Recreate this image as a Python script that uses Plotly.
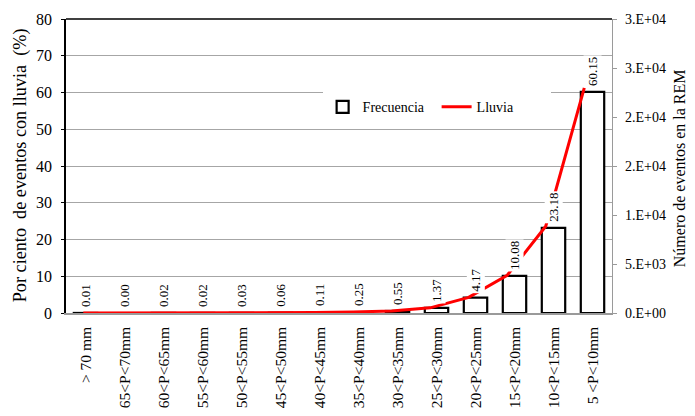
import plotly.graph_objects as go

categories = ["> 70 mm", "65<P<70mm", "60<P<65mm", "55<P<60mm", "50<P<55mm",
              "45<P<50mm", "40<P<45mm", "35<P<40mm", "30<P<35mm", "25<P<30mm",
              "20<P<25mm", "15<P<20mm", "10<P<15mm", "5 <P<10mm"]
freq_pct = [0.01, 0.00, 0.02, 0.02, 0.03, 0.06, 0.11, 0.25, 0.55, 1.37,
            4.17, 10.08, 23.18, 60.15]
lluvia_events = [4, 1, 8, 8, 11, 23, 42, 95, 210, 523, 1593, 3851, 8855, 22977]

left_tickvals = [0, 10, 20, 30, 40, 50, 60, 70, 80]
right_tickvals = [0, 5000, 10000, 15000, 20000, 25000, 30000]
right_ticktext = ["0.E+00", "5.E+03", "1.E+04", "2.E+04", "2.E+04", "3.E+04", "3.E+04"]

left_title = "Por ciento\u00a0 de eventos con lluvia\u00a0 (%)"
right_title = "Número de eventos en la REM"

FONT = "Liberation Serif"

fig = go.Figure()
fig.add_trace(go.Bar(
    x=categories, y=freq_pct, name="Frecuencia",
    marker=dict(color="white", line=dict(color="black", width=2.2)),
    width=0.6, xaxis="x", yaxis="y",
))
fig.add_trace(go.Scatter(
    x=categories, y=lluvia_events, name="Lluvia", mode="lines",
    line=dict(color="#ff0000", width=3),
    xaxis="x2", yaxis="y2",
))

for c, v in zip(categories, freq_pct):
    fig.add_annotation(
        x=c, y=v, xref="x", yref="y", text=f"{v:.2f}", textangle=-90,
        showarrow=False, yanchor="bottom", yshift=4, bgcolor="white",
        borderpad=1, font=dict(family=FONT, size=13, color="black"),
    )

fig.add_annotation(x=-0.084, y=0.503, xref="paper", yref="paper", text=left_title,
                   textangle=-90, showarrow=False, xanchor="center", yanchor="middle",
                   font=dict(family=FONT, size=18.2, color="black"))
fig.add_annotation(x=1.123, y=0.493, xref="paper", yref="paper", text=right_title,
                   textangle=-90, showarrow=False, xanchor="center", yanchor="middle",
                   font=dict(family=FONT, size=16, color="black"))

fig.update_layout(
    width=695, height=416,
    margin=dict(l=58, r=91, t=11, b=111),
    plot_bgcolor="white", paper_bgcolor="white",
    font=dict(family=FONT, color="black"),
    showlegend=True,
    legend=dict(orientation="h", x=0.47, y=0.70, xanchor="left", yanchor="middle",
                bgcolor="white", font=dict(family=FONT, size=14), itemwidth=30,
                entrywidth=69, tracegroupgap=0),
    bargap=0.4,
    xaxis=dict(
        type="category", categoryorder="array", categoryarray=categories,
        tickangle=-90, tickfont=dict(family=FONT, size=15.5), automargin=False,
        ticklabelstandoff=6,
        showline=True, linecolor="#9a9a9a", linewidth=1.5, ticks="",
        showgrid=False, mirror=False, range=[-0.5, 13.5],
    ),
    xaxis2=dict(
        type="category", categoryorder="array", categoryarray=categories,
        overlaying="x", anchor="y2", visible=False, range=[-0.449, 13.719],
    ),
    yaxis=dict(
        range=[0, 80], tickvals=left_tickvals, tickfont=dict(family=FONT, size=16),
        showline=True, linecolor="black", linewidth=1.5, ticks="outside",
        ticklen=3, tickcolor="black", automargin=False, ticklabelstandoff=6,
        showgrid=True, gridcolor="#a6a6a6", gridwidth=1.3, zeroline=False,
    ),
    yaxis2=dict(
        range=[0, 30000], tickvals=right_tickvals, ticktext=right_ticktext,
        overlaying="y", side="right", anchor="x2", automargin=False,
        ticklabelstandoff=5,
        tickfont=dict(family=FONT, size=14),
        showline=True, linecolor="#9a9a9a", linewidth=1.3, ticks="outside",
        ticklen=4, tickcolor="#9a9a9a", showgrid=False, zeroline=False,
    ),
    shapes=[dict(type="line", xref="paper", yref="paper", x0=0, x1=1, y0=1, y1=1,
                 line=dict(color="black", width=1.5))],
)

fig.write_html("out.html")
